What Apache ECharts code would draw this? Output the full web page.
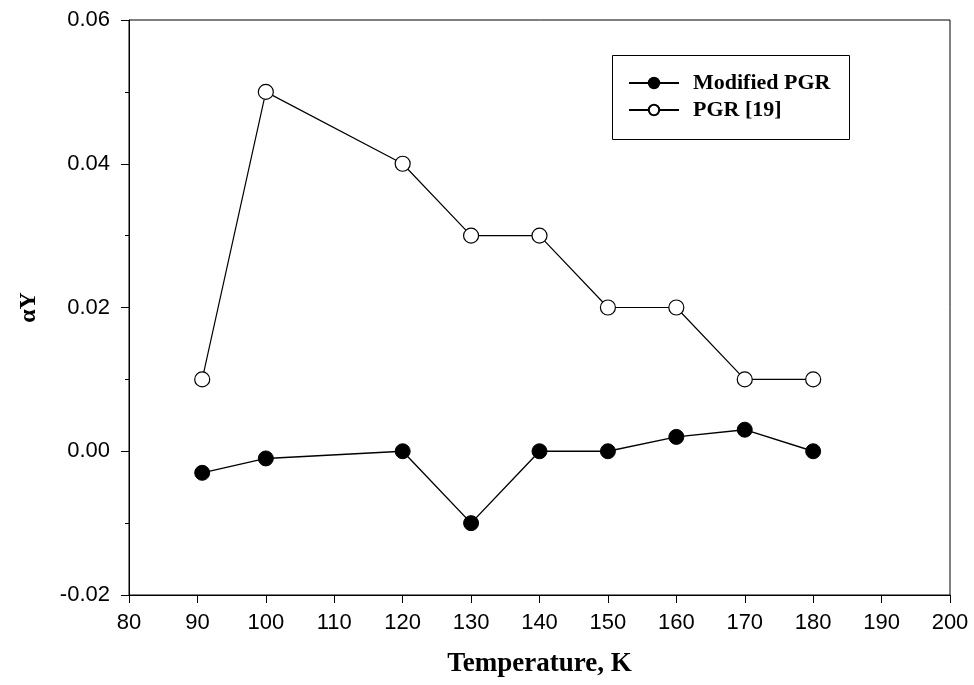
<!DOCTYPE html>
<html><head><meta charset="utf-8">
<script src="https://cdn.jsdelivr.net/npm/echarts@6/dist/echarts.min.js"></script>
<style>html,body{margin:0;padding:0;background:#fff}#c{width:974px;height:685px}</style>
</head><body><div id="c"></div>
<script>
const temps = [90.7, 100, 120, 130, 140, 150, 160, 170, 180];
const modifiedPGR = [-0.003, -0.001, 0.0, -0.01, 0.0, 0.0, 0.002, 0.003, 0.0];
const pgr19 = [0.01, 0.05, 0.04, 0.03, 0.03, 0.02, 0.02, 0.01, 0.01];
const seriesNames = ['Modified PGR', 'PGR [19]'];
const xTitle = 'Temperature, K';
const yTitle = 'αY';

const chart = echarts.init(document.getElementById('c'), null, {renderer: 'canvas'});
const pair = (xs, ys) => xs.map((x, i) => [x, ys[i]]);
const tickFont = {fontFamily: 'Liberation Sans, Arial, sans-serif', fontSize: 22, color: '#000'};
const serif = 'Liberation Serif, Times New Roman, serif';
chart.setOption({
  animation: false,
  backgroundColor: '#fff',
  grid: {left: 129, right: 24, top: 20, bottom: 90, show: true, borderColor: '#000', borderWidth: 1},
  xAxis: {
    type: 'value', min: 80, max: 200, interval: 10,
    name: xTitle, nameLocation: 'middle', nameGap: 56,
    nameTextStyle: {fontFamily: serif, fontWeight: 'bold', fontSize: 27, color: '#000'},
    axisLine: {onZero: false, lineStyle: {color: '#000', width: 1}},
    axisTick: {inside: false, length: 8, lineStyle: {color: '#000'}},
    axisLabel: Object.assign({margin: 17}, tickFont),
    splitLine: {show: false}
  },
  yAxis: {
    type: 'value', min: -0.02, max: 0.06, interval: 0.02,
    name: yTitle, nameLocation: 'middle', nameGap: 88, nameRotate: 90,
    nameTextStyle: {fontFamily: serif, fontWeight: 'bold', fontSize: 24, color: '#000'},
    axisLine: {onZero: false, lineStyle: {color: '#000', width: 1}},
    axisTick: {inside: false, length: 8, lineStyle: {color: '#000'}},
    minorTick: {show: true, splitNumber: 2, length: 4, lineStyle: {color: '#000'}},
    axisLabel: Object.assign({margin: 19, formatter: v => v.toFixed(2)}, tickFont),
    splitLine: {show: false}
  },
  legend: {
    left: 628, top: 72, orient: 'vertical', padding: 0,
    itemWidth: 50, itemHeight: 13, itemGap: 5,
    textStyle: {fontFamily: serif, fontWeight: 'bold', fontSize: 22, color: '#000', padding: [0, 0, 0, 9]},
    data: seriesNames
  },
  graphic: [{
    type: 'rect', left: 612, top: 55, z: 1,
    shape: {width: 237, height: 84},
    style: {fill: '#fff', stroke: '#000', lineWidth: 1}
  }],
  series: [
    {
      name: seriesNames[0], type: 'line', data: pair(temps, modifiedPGR),
      symbol: 'circle', symbolSize: 15, z: 3,
      lineStyle: {color: '#000', width: 1.4},
      itemStyle: {color: '#000', borderColor: '#000', borderWidth: 1}
    },
    {
      name: seriesNames[1], type: 'line', data: pair(temps, pgr19),
      symbol: 'circle', symbolSize: 15, z: 3,
      lineStyle: {color: '#000', width: 1.2},
      itemStyle: {color: '#fff', borderColor: '#000', borderWidth: 1.2}
    }
  ]
});
</script></body></html>
